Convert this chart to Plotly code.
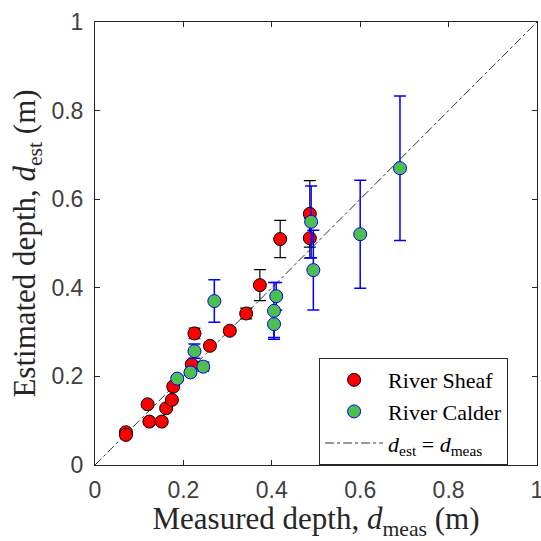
import plotly.graph_objects as go

# River Sheaf
sheaf_x = [0.070, 0.070, 0.119, 0.123, 0.151, 0.161, 0.174, 0.177, 0.219, 0.225, 0.260, 0.305, 0.342, 0.373, 0.419, 0.486, 0.486]
sheaf_y = [0.074, 0.068, 0.137, 0.098, 0.098, 0.128, 0.147, 0.177, 0.227, 0.297, 0.269, 0.303, 0.342, 0.406, 0.510, 0.567, 0.512]
sheaf_err = [0.006, 0.006, 0.006, 0.006, 0.006, 0.006, 0.006, 0.006, 0.006, 0.012, 0.007, 0.007, 0.012, 0.035, 0.042, 0.075, 0.045]

# River Calder
calder_x = [0.186, 0.216, 0.245, 0.225, 0.270, 0.405, 0.405, 0.410, 0.489, 0.494, 0.600, 0.690]
calder_y = [0.195, 0.209, 0.222, 0.257, 0.370, 0.348, 0.318, 0.381, 0.549, 0.440, 0.521, 0.670]
calder_err = [0.006, 0.006, 0.010, 0.016, 0.048, 0.064, 0.030, 0.031, 0.081, 0.090, 0.122, 0.163]

line_x = [0, 1]
line_y = [0, 1]

tick_vals = [0, 0.2, 0.4, 0.6, 0.8, 1]
tick_text = ["0", "0.2", "0.4", "0.6", "0.8", "1"]

serif = "Liberation Serif, DejaVu Serif, serif"
sans = "Liberation Sans, Arial, sans-serif"

fig = go.Figure()

fig.add_trace(go.Scatter(
    x=line_x, y=line_y, mode="lines",
    line=dict(color="black", width=0.8, dash="dashdot"),
    name="<i>d</i><sub>est</sub> = <i>d</i><sub>meas</sub>",
    legendrank=3,
))

fig.add_trace(go.Scatter(
    x=sheaf_x, y=sheaf_y, mode="markers",
    marker=dict(color="#ff0000", size=13, line=dict(color="black", width=1)),
    error_y=dict(type="data", array=sheaf_err, color="black", thickness=1.2, width=6),
    name="River Sheaf", legendrank=1,
))

fig.add_trace(go.Scatter(
    x=calder_x, y=calder_y, mode="markers",
    marker=dict(color="#4dbf4d", size=13, line=dict(color="#0000ff", width=1)),
    error_y=dict(type="data", array=calder_err, color="#0000ff", thickness=1.5, width=6),
    name="River Calder", legendrank=2,
))

axis_common = dict(
    range=[0, 1], tickvals=tick_vals, ticktext=tick_text,
    ticks="inside", ticklen=5, tickcolor="#262626", tickwidth=1,
    showline=True, linecolor="#262626", linewidth=1, mirror="ticks",
    showgrid=False, zeroline=False, ticklabeloverflow="allow",
    automargin=False,
    tickfont=dict(family=sans, size=23, color="#404040"),
)

fig.update_layout(
    width=541, height=541,
    margin=dict(l=95, r=4, t=22, b=76),
    plot_bgcolor="white", paper_bgcolor="white",
    showlegend=True,
    legend=dict(
        x=0.507, y=0.2415, xanchor="left", yanchor="top",
        bordercolor="#262626", borderwidth=1, bgcolor="white",
        font=dict(family=serif, size=22, color="black"),
        tracegroupgap=0, itemwidth=58,
        entrywidth=146, entrywidthmode="pixels",
    ),
    xaxis=dict(**axis_common, ticklabelstandoff=4,
               title=dict(text="Measured depth, <i>d</i><sub>meas</sub> (m)",
                          font=dict(family=serif, size=31, color="#262626"), standoff=0)),
    yaxis=dict(**axis_common, ticklabelstandoff=6,
               title=dict(text="Estimated depth, <i>d</i><sub>est</sub> (m)",
                          font=dict(family=serif, size=31, color="#262626"), standoff=6)),
)

fig.write_html("out.html")
